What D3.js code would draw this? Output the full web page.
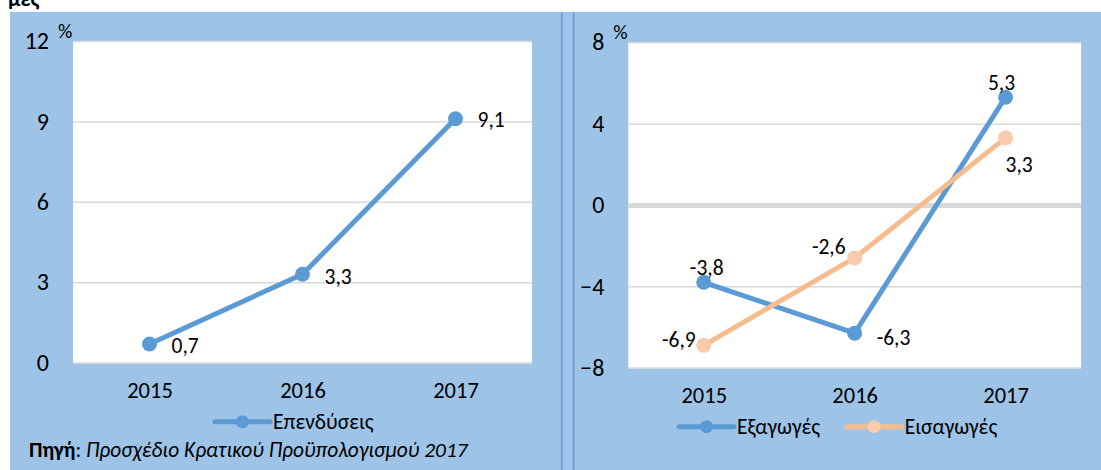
<!DOCTYPE html>
<html>
<head>
<meta charset="utf-8">
<script src="https://cdn.jsdelivr.net/npm/d3@7"></script>
<style>
  body { margin: 0; background: #fff; }
  svg { display: block; font-family: Carlito, Calibri, 'Open Sans', sans-serif; }
</style>
</head>
<body>
<svg id="vis" width="1101" height="470"></svg>
<script>
(function () {

  'use strict';

  // Data
  var years = ['2015', '2016', '2017'];
  var investment = [0.7, 3.3, 9.1];
  var exportsGrowth = [-3.8, -6.3, 5.3];
  var importsGrowth = [-6.9, -2.6, 3.3];
  var leftTicks = [0, 3, 6, 9, 12];
  var rightTicks = [-8, -4, 0, 4, 8];
  var seriesNames = ['Επενδύσεις', 'Εξαγωγές', 'Εισαγωγές'];

  // Settings
  var blue = '#5b9bd5';
  var orange = '#f7bc8e';
  var orangeMarker = '#f8cbad';
  var grid = '#d9d9d9';

  var svg = d3.select('#vis');

  svg.append('rect')
      .attr('x', 10)
      .attr('y', 12)
      .attr('width', 1091)
      .attr('height', 458)
      .attr('fill', '#9dc3e6');

  // cut off title above the chart
  svg.append('text')
      .attr('x', 8)
      .attr('y', 6)
      .attr('font-size', 22)
      .attr('font-weight', 'bold')
      .text('μες');

  // panel divider
  [561.7, 573.7].forEach(function (x) {
    svg.append('line')
        .attr('x1', x).attr('x2', x)
        .attr('y1', 12).attr('y2', 470)
        .attr('stroke', blue)
        .attr('stroke-width', 1.5);
  });

  drawPanel({ left: 73, right: 532, top: 41, bottom: 362.7 }, leftTicks, [
    {
      name: seriesNames[0], values: investment, color: blue, marker: blue,
      labels: [['start', 22, 2], ['start', 22, 2], ['start', 22, 1]]
    }
  ], [{ x: 215, y: 421.7 }]);

  drawPanel({ left: 628.3, right: 1081, top: 42.3, bottom: 367.7 }, rightTicks, [
    {
      name: seriesNames[1], values: exportsGrowth, color: blue, marker: blue,
      labels: [['middle', 3, -15], ['start', 22, 4], ['middle', -4, -15]]
    },
    {
      name: seriesNames[2], values: importsGrowth, color: orange, marker: orangeMarker,
      labels: [['end', -8, -6], ['end', -9, -11], ['start', 0, 27]]
    }
  ], [{ x: 679, y: 426.7 }, { x: 846.7, y: 426.7 }]);

  // source note
  var note = svg.append('text')
      .attr('x', 29)
      .attr('y', 450)
      .attr('dy', '0.35em')
      .attr('font-size', 21.4);

  note.append('tspan').attr('font-weight', 'bold').text('Πηγή');
  note.append('tspan').text(': ');
  note.append('tspan').attr('font-style', 'italic')
      .text('Προσχέδιο Κρατικού Προϋπολογισμού 2017');

  function drawPanel(frame, ticks, series, legendPos) {

    var w = frame.right - frame.left;
    var h = frame.bottom - frame.top;

    var x = d3.scalePoint()
      .domain(years)
      .range([0, w])
      .padding(0.5);

    var y = d3.scaleLinear()
      .domain(d3.extent(ticks))
      .range([h, 0]);

    var group = svg.append('g')
        .attr('transform', 'translate(' + frame.left + ',' + frame.top + ')');

    group.append('rect')
        .attr('width', w)
        .attr('height', h)
        .attr('fill', '#fff');

    var yAxis = group.append('g')
        .call(d3.axisLeft(y).tickValues(ticks).tickSize(-w).tickPadding(24))
        .attr('font-family', null)
        .attr('font-size', null);

    yAxis.select('.domain').remove();
    yAxis.selectAll('line')
        .attr('stroke', grid)
        .attr('stroke-width', function (d) { return d === 0 && ticks[0] < 0 ? 5 : 1.5; });
    yAxis.selectAll('text')
        .attr('font-size', 24)
        .attr('fill', '#000');

    group.append('text')
        .attr('x', -15)
        .attr('y', -3)
        .attr('font-size', 20)
        .text('%');

    var xAxis = group.append('g')
        .attr('transform', 'translate(0,' + h + ')')
        .call(d3.axisBottom(x).tickSize(0))
        .attr('font-family', null)
        .attr('font-size', null);

    xAxis.select('.domain').remove();
    xAxis.selectAll('text')
        .attr('y', 27)
        .attr('dy', '0.35em')
        .attr('font-size', 22.5)
        .attr('fill', '#000');

    var line = d3.line()
      .x(function (d, i) { return x(years[i]); })
      .y(function (d) { return y(d); });

    series.forEach(function (s, k) {

      group.append('path')
          .datum(s.values)
          .attr('d', line)
          .attr('fill', 'none')
          .attr('stroke', s.color)
          .attr('stroke-width', 5)
          .attr('stroke-linejoin', 'round');

      group.append('g')
          .attr('fill', s.marker)
        .selectAll('circle')
          .data(s.values)
          .enter()
        .append('circle')
          .attr('r', 7.5)
          .attr('cx', function (d, i) { return x(years[i]); })
          .attr('cy', function (d) { return y(d); });

      group.append('g')
        .selectAll('text')
          .data(s.values)
          .enter()
        .append('text')
          .attr('x', function (d, i) { return x(years[i]) + s.labels[i][1]; })
          .attr('y', function (d, i) { return y(d) + s.labels[i][2]; })
          .attr('dy', '0.35em')
          .attr('text-anchor', function (d, i) { return s.labels[i][0]; })
          .attr('font-size', 21.5)
          .text(function (d) { return String(d).replace('.', ','); });

      // legend entry
      var pos = legendPos[k];
      var entry = svg.append('g')
          .attr('transform', 'translate(' + pos.x + ',' + pos.y + ')');

      entry.append('line')
          .attr('x2', 55)
          .attr('stroke', s.color)
          .attr('stroke-width', 5)
          .attr('stroke-linecap', 'round');

      entry.append('circle')
          .attr('cx', 27.5)
          .attr('r', 6.5)
          .attr('fill', s.marker);

      entry.append('text')
          .attr('x', 58)
          .attr('dy', '0.35em')
          .attr('font-size', 21.5)
          .text(s.name);
    });
  }
})();
</script>
</body>
</html>
